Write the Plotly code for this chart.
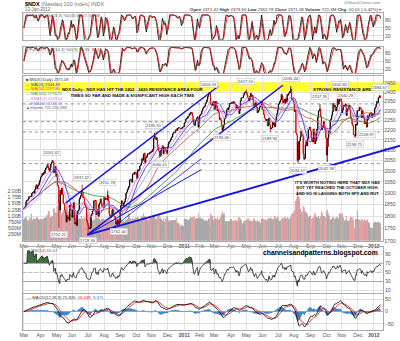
import numpy as np
import pandas as pd
import plotly.graph_objects as go

# ---------------- data (NDX daily closes, by month) ----------------
month_labels = ["Mar", "Apr", "May", "Jun", "Jul", "Aug", "Sep", "Oct", "Nov", "Dec", "<b>2011</b>", "Feb",
                "Mar", "Apr", "May", "Jun", "Jul", "Aug", "Sep", "Oct", "Nov", "Dec", "<b>2012</b>"]

close_2010_03 = [1832, 1838, 1845, 1862, 1869, 1868, 1874, 1884, 1882, 1885, 1886, 1899, 1902, 1906, 1899, 1914, 1928, 1937, 1918, 1931, 1936, 1947, 1957]
close_2010_04 = [1972, 1976, 1988, 1982, 1994, 1989, 2004, 2013, 2017, 2030, 2021, 2006, 1998, 2015, 2032, 2040, 2048, 2041, 1992, 1998, 2021, 1974]
close_2010_05 = [1985, 1936, 1925, 1860, 1826, 1913, 1895, 1922, 1893, 1855, 1853, 1826, 1814, 1776, 1803, 1792, 1797, 1783, 1848, 1827, 1827]
close_2010_06 = [1796, 1830, 1858, 1790, 1768, 1773, 1762, 1810, 1822, 1828, 1873, 1880, 1889, 1910, 1905, 1880, 1878, 1851, 1845, 1842, 1783, 1772]
close_2010_07 = [1760, 1748, 1750, 1752, 1803, 1810, 1822, 1826, 1866, 1865, 1867, 1808, 1810, 1830, 1800, 1850, 1857, 1874, 1858, 1842, 1840, 1838]
close_2010_08 = [1880, 1872, 1877, 1874, 1869, 1890, 1862, 1810, 1802, 1795, 1800, 1826, 1831, 1801, 1800, 1787, 1768, 1777, 1766, 1786, 1770, 1774]
close_2010_09 = [1822, 1845, 1866, 1860, 1842, 1855, 1862, 1874, 1898, 1904, 1915, 1922, 1930, 1958, 1962, 1956, 1948, 1985, 1990, 1985, 1995, 1992]
close_2010_10 = [1980, 1965, 2005, 2000, 2006, 2022, 2028, 2040, 2058, 2050, 2078, 2085, 2040, 2061, 2065, 2075, 2082, 2080, 2082, 2090, 2088]
close_2010_11 = [2095, 2092, 2105, 2158, 2170, 2165, 2152, 2160, 2125, 2100, 2095, 2068, 2072, 2100, 2108, 2120, 2082, 2112, 2112, 2100, 2092, 2080]
close_2010_12 = [2115, 2130, 2140, 2142, 2150, 2160, 2165, 2180, 2185, 2188, 2185, 2198, 2205, 2198, 2208, 2212, 2210, 2210, 2206, 2208, 2212, 2215, 2218]
close_2011_01 = [2235, 2240, 2255, 2262, 2260, 2270, 2272, 2285, 2282, 2293, 2290, 2272, 2248, 2228, 2222, 2245, 2250, 2262, 2268, 2214, 2240]
close_2011_02 = [2275, 2280, 2285, 2298, 2310, 2318, 2322, 2325, 2340, 2348, 2360, 2378, 2390, 2395, 2395, 2335, 2330, 2330, 2345, 2350]
close_2011_03 = [2305, 2315, 2350, 2330, 2300, 2308, 2290, 2255, 2262, 2250, 2225, 2198, 2210, 2225, 2262, 2260, 2275, 2305, 2315, 2305, 2320, 2340, 2338]
close_2011_04 = [2342, 2345, 2340, 2350, 2347, 2338, 2335, 2315, 2330, 2315, 2320, 2285, 2305, 2355, 2370, 2370, 2372, 2385, 2395, 2400, 2405]
close_2011_05 = [2400, 2385, 2370, 2355, 2360, 2380, 2395, 2375, 2385, 2360, 2325, 2320, 2340, 2345, 2320, 2290, 2295, 2305, 2320, 2325, 2325, 2352]
close_2011_06 = [2305, 2305, 2280, 2262, 2255, 2248, 2255, 2220, 2225, 2262, 2225, 2205, 2210, 2210, 2240, 2225, 2240, 2215, 2245, 2270, 2285, 2305]
close_2011_07 = [2335, 2340, 2350, 2360, 2390, 2380, 2345, 2350, 2362, 2340, 2365, 2348, 2390, 2385, 2395, 2405, 2400, 2420, 2365, 2362, 2358]
close_2011_08 = [2345, 2295, 2305, 2185, 2175, 2050, 2140, 2055, 2145, 2165, 2195, 2175, 2172, 2080, 2055, 2060, 2125, 2145, 2120, 2155, 2200, 2205, 2215]
close_2011_09 = [2195, 2160, 2145, 2140, 2205, 2190, 2130, 2145, 2180, 2205, 2265, 2300, 2300, 2310, 2270, 2200, 2210, 2220, 2245, 2215, 2200, 2160]
close_2011_10 = [2075, 2115, 2160, 2195, 2185, 2250, 2255, 2275, 2295, 2340, 2320, 2330, 2300, 2300, 2320, 2365, 2335, 2350, 2390, 2390, 2350]
close_2011_11 = [2290, 2305, 2330, 2325, 2330, 2335, 2275, 2300, 2310, 2320, 2330, 2305, 2265, 2255, 2230, 2222, 2175, 2175, 2168, 2230, 2225, 2300]
close_2011_12 = [2300, 2302, 2320, 2315, 2310, 2265, 2300, 2270, 2262, 2232, 2240, 2245, 2215, 2275, 2255, 2270, 2285, 2285, 2290, 2265, 2285, 2278]
close_2012_01 = [2278, 2312, 2320, 2335, 2350, 2345, 2370, 2375, 2381, 2371.08]

# daily volume in units of 10M shares
vol_2010_03 = [85, 90, 88, 95, 80, 82, 78, 84, 92, 75, 110, 86, 80, 78, 90, 85, 88, 82, 95, 90, 84, 80, 86]
vol_2010_04 = [82, 70, 88, 85, 90, 80, 92, 95, 98, 90, 105, 120, 90, 95, 92, 98, 100, 95, 130, 110, 105, 115]
vol_2010_05 = [110, 140, 130, 185, 160, 120, 110, 105, 115, 125, 118, 122, 125, 150, 140, 110, 120, 115, 105, 100, 60]
vol_2010_06 = [110, 100, 95, 120, 105, 112, 108, 95, 85, 88, 92, 90, 85, 100, 80, 90, 88, 95, 85, 90, 110, 115]
vol_2010_07 = [105, 95, 60, 90, 95, 82, 78, 80, 85, 80, 90, 110, 92, 85, 98, 90, 80, 82, 85, 88, 90, 85]
vol_2010_08 = [85, 80, 82, 78, 80, 75, 88, 105, 90, 85, 80, 85, 82, 88, 80, 78, 95, 90, 85, 80, 75, 92]
vol_2010_09 = [95, 85, 80, 60, 82, 78, 75, 78, 85, 82, 88, 90, 110, 85, 90, 88, 82, 92, 80, 88, 90, 95]
vol_2010_10 = [88, 92, 95, 90, 85, 80, 70, 92, 98, 95, 110, 90, 100, 88, 85, 82, 80, 85, 90, 88, 92]
vol_2010_11 = [90, 85, 95, 105, 100, 82, 88, 85, 95, 100, 88, 110, 95, 88, 82, 80, 95, 78, 50, 70, 88, 95]
vol_2010_12 = [100, 85, 80, 78, 82, 85, 80, 82, 84, 80, 85, 82, 92, 75, 70, 72, 70, 50, 60, 65, 62, 60, 58]
vol_2011_01 = [90, 85, 88, 82, 80, 85, 82, 88, 85, 95, 60, 90, 95, 98, 88, 85, 90, 88, 92, 110, 90]
vol_2011_02 = [95, 88, 85, 90, 85, 88, 82, 80, 85, 78, 82, 80, 78, 90, 60, 110, 105, 100, 85, 82]
vol_2011_03 = [100, 90, 88, 85, 95, 85, 82, 90, 85, 95, 110, 120, 98, 110, 82, 78, 75, 80, 78, 75, 78, 80, 82]
vol_2011_04 = [88, 78, 80, 82, 80, 78, 82, 85, 78, 80, 85, 95, 80, 90, 85, 60, 70, 75, 78, 82, 80]
vol_2011_05 = [85, 82, 88, 90, 85, 78, 80, 82, 78, 80, 90, 85, 82, 78, 80, 85, 75, 78, 80, 72, 60, 88]
vol_2011_06 = [95, 85, 88, 80, 82, 85, 80, 92, 82, 88, 92, 95, 90, 88, 82, 85, 88, 100, 82, 85, 90, 95]
vol_2011_07 = [85, 70, 80, 82, 90, 85, 92, 88, 90, 95, 88, 90, 95, 85, 88, 85, 90, 95, 110, 105, 110]
vol_2011_08 = [115, 120, 125, 160, 170, 210, 180, 175, 160, 130, 110, 118, 105, 140, 135, 110, 120, 115, 110, 100, 90, 95, 100]
vol_2011_09 = [85, 88, 60, 92, 95, 88, 110, 98, 90, 92, 95, 100, 82, 90, 100, 120, 110, 90, 100, 92, 88, 95]
vol_2011_10 = [115, 125, 110, 100, 90, 85, 82, 88, 85, 95, 80, 88, 82, 90, 95, 80, 82, 90, 110, 88, 92]
vol_2011_11 = [110, 90, 95, 82, 78, 85, 100, 82, 80, 78, 85, 82, 95, 85, 95, 85, 82, 45, 50, 88, 85, 120]
vol_2011_12 = [88, 80, 85, 78, 82, 90, 80, 85, 82, 88, 78, 80, 85, 82, 78, 72, 70, 50, 55, 52, 50, 48]
vol_2012_01 = [72, 75, 78, 70, 75, 70, 78, 74, 72, 72]

closes_by_month = [close_2010_03, close_2010_04, close_2010_05, close_2010_06, close_2010_07, close_2010_08,
                   close_2010_09, close_2010_10, close_2010_11, close_2010_12, close_2011_01, close_2011_02,
                   close_2011_03, close_2011_04, close_2011_05, close_2011_06, close_2011_07, close_2011_08,
                   close_2011_09, close_2011_10, close_2011_11, close_2011_12, close_2012_01]
vols_by_month = [vol_2010_03, vol_2010_04, vol_2010_05, vol_2010_06, vol_2010_07, vol_2010_08,
                 vol_2010_09, vol_2010_10, vol_2010_11, vol_2010_12, vol_2011_01, vol_2011_02,
                 vol_2011_03, vol_2011_04, vol_2011_05, vol_2011_06, vol_2011_07, vol_2011_08,
                 vol_2011_09, vol_2011_10, vol_2011_11, vol_2011_12, vol_2012_01]

# intraday extremes that were annotated on the chart: (trading-day index, value, 'H'/'L')
extreme_days = [39, 48, 80, 88, 115, 131, 179, 186, 254, 272, 305, 338, 366, 376, 406, 416, 433, 441, 454, 470, 488]
extreme_vals = [2051.42, 1752.22, 1937.22, 1728.34, 1911.78, 1762.40, 2185.51, 2060.21, 2403.33, 2195.40, 2417.10,
                2189.94, 2436.44, 2034.57, 2337.35, 2042.58, 2402.82, 2340.29, 2158.71, 2209.97, 2384.67]
extreme_kind = ["H", "L", "H", "L", "H", "L", "H", "L", "H", "L", "H", "L", "H", "L", "H", "L", "H", "H", "L", "L", "H"]

support_levels = [2337.35, 2243.0, 2189.94, 2034.57]

# ---------------- derived series ----------------
close_list, vol_list, month_start = [], [], []
for c, v in zip(closes_by_month, vols_by_month):
    month_start.append(len(close_list))
    m = min(len(c), len(v))
    close_list += c[:m]
    vol_list += v[:m]
close = np.array(close_list, float)
volume = np.array(vol_list, float) * 1e7
n = len(close)
idx = np.arange(n)
openp = np.r_[close[0], close[:-1]]
high = np.maximum(openp, close)
low = np.minimum(openp, close)
for d, v, k in zip(extreme_days, extreme_vals, extreme_kind):
    if d < n:
        if k == "H":
            high[d] = max(high[d], v)
        else:
            low[d] = min(low[d], v)

cs = pd.Series(close)
ma20 = cs.rolling(20, min_periods=1).mean()
ma50 = cs.rolling(50, min_periods=1).mean()
ma100 = cs.rolling(100, min_periods=1).mean()
ema13 = cs.ewm(span=13, adjust=False).mean()
ema34 = cs.ewm(span=34, adjust=False).mean()


def full_sto(k):
    hh = pd.Series(high).rolling(k, min_periods=1).max()
    ll = pd.Series(low).rolling(k, min_periods=1).min()
    fast = (100 * (cs - ll) / (hh - ll).replace(0, np.nan)).fillna(50)
    fk = fast.rolling(3, min_periods=1).mean()
    fd = fk.rolling(3, min_periods=1).mean()
    return fk, fd


sto1k, sto1d = full_sto(5)
sto2k, sto2d = full_sto(14)

delta = cs.diff().fillna(0)
gain = delta.clip(lower=0).ewm(alpha=1 / 14, adjust=False).mean()
loss = (-delta.clip(upper=0)).ewm(alpha=1 / 14, adjust=False).mean()
rsi = (100 - 100 / (1 + gain / loss.replace(0, np.nan))).fillna(70)

macd = cs.ewm(span=12, adjust=False).mean() - cs.ewm(span=26, adjust=False).mean()
signal = macd.ewm(span=9, adjust=False).mean()
hist = macd - signal

up = close >= openp
# ---------------- layout helpers ----------------
W, H = 400, 341
X0, X1 = 20, 383


def px(x):
    return x / W


def py(y):
    return 1 - y / H


xr = [-1.4, n + 2.6]
panels = {"sto1": (13, 40), "sto2": (47, 74), "main": (77, 243), "rsi": (249, 296), "macd": (297, 333)}

fig = go.Figure()
grid = "#e2e2e2"
red = "#e01010"

# STO panels
for k_, d_, xa, ya in [(sto1k, sto1d, "x", "y"), (sto2k, sto2d, "x2", "y2")]:
    fig.add_trace(go.Scatter(x=idx, y=k_, mode="lines", line=dict(color="black", width=0.8), xaxis=xa, yaxis=ya))
    fig.add_trace(go.Scatter(x=idx, y=d_, mode="lines", line=dict(color=red, width=0.8), xaxis=xa, yaxis=ya))

# volume (base of main panel)
vcol = np.where(up, "#a9a9a9", "#e8a0a0")
fig.add_trace(go.Bar(x=idx, y=volume, marker=dict(color=vcol, line=dict(width=0)), width=0.75, xaxis="x3", yaxis="y3"))

# support lines
for lv in support_levels:
    fig.add_trace(go.Scatter(x=xr, y=[lv, lv], mode="lines", line=dict(color="#777", width=0.8, dash="dot"),
                             xaxis="x3", yaxis="y4"))

# moving averages
for s, col, w in [(ma100, "#3a8a3a", 0.8), (ma50, "#e04040", 0.8), (ema34, "#9a9ad8", 0.8),
                  (ma20, "#3030d0", 0.8), (ema13, "#e070e0", 0.8)]:
    fig.add_trace(go.Scatter(x=idx, y=s, mode="lines", line=dict(color=col, width=w), xaxis="x3", yaxis="y4"))

fig.add_trace(go.Candlestick(x=idx, open=openp, high=high, low=low, close=close,
                             increasing=dict(line=dict(color="black", width=0.8), fillcolor="black"),
                             decreasing=dict(line=dict(color="#d00000", width=0.8), fillcolor="#d00000"),
                             whiskerwidth=0, xaxis="x3", yaxis="y4"))

# RSI
fig.add_trace(go.Scatter(x=idx, y=np.full(n, 70.0), mode="lines", line=dict(width=0), xaxis="x5", yaxis="y5"))
fig.add_trace(go.Scatter(x=idx, y=np.maximum(rsi, 70), mode="lines", line=dict(width=0), fill="tonexty",
                         fillcolor="#3c6e3c", xaxis="x5", yaxis="y5"))
fig.add_trace(go.Scatter(x=idx, y=np.full(n, 30.0), mode="lines", line=dict(width=0), xaxis="x5", yaxis="y5"))
fig.add_trace(go.Scatter(x=idx, y=np.minimum(rsi, 30), mode="lines", line=dict(width=0), fill="tonexty",
                         fillcolor="#c04040", xaxis="x5", yaxis="y5"))
for lv, dash, col in [(70, "solid", "#999"), (30, "solid", "#999"), (50, "dot", "#aaa")]:
    fig.add_trace(go.Scatter(x=xr, y=[lv, lv], mode="lines", line=dict(color=col, width=0.8, dash=dash),
                             xaxis="x5", yaxis="y5"))
fig.add_trace(go.Scatter(x=idx, y=rsi, mode="lines", line=dict(color="#222", width=0.8), xaxis="x5", yaxis="y5"))

# MACD
fig.add_trace(go.Scatter(x=idx, y=hist, mode="lines", fill="tozeroy", line=dict(color="#2a6db0", width=0.5),
                         fillcolor="#3c8ad0", xaxis="x6", yaxis="y6"))
fig.add_trace(go.Scatter(x=xr, y=[0, 0], mode="lines", line=dict(color="#999", width=0.6), xaxis="x6", yaxis="y6"))
fig.add_trace(go.Scatter(x=idx, y=signal, mode="lines", line=dict(color=red, width=0.8), xaxis="x6", yaxis="y6"))
fig.add_trace(go.Scatter(x=idx, y=macd, mode="lines", line=dict(color="black", width=0.8), xaxis="x6", yaxis="y6"))

FONT = "Arial, Liberation Sans, sans-serif"
tickfont = dict(family=FONT, size=5.2, color="#555")


def xaxis(name, dom, labels):
    return dict(domain=[px(X0), px(X1)], range=xr, anchor=name, tickvals=month_start, ticktext=month_labels,
                showticklabels=labels, tickfont=tickfont, ticks="", showgrid=True, gridcolor=grid, gridwidth=0.6,
                showline=True, mirror=True, linecolor="#aaa", linewidth=0.6, zeroline=False, fixedrange=True,
                rangeslider=dict(visible=False))


def yaxis(name, panel, rng, vals, text=None, side="right", typ="linear", grid_on=True):
    top, bot = panels[panel]
    d = dict(domain=[py(bot), py(top)], range=rng, anchor=name, side=side, type=typ, tickvals=vals,
             tickfont=tickfont, ticks="", showgrid=grid_on, gridcolor=grid, gridwidth=0.6, zeroline=False,
             showline=True, mirror=True, linecolor="#aaa", linewidth=0.6, fixedrange=True)
    if text is not None:
        d["ticktext"] = text
    return d


price_ticks = list(range(1700, 2451, 50))
vol_ticks = [2.5e8, 5e8, 7.5e8, 1e9, 1.25e9, 1.5e9, 1.75e9, 2e9]
vol_text = ["250M", "500M", "750M", "1.00B", "1.25B", "1.50B", "1.75B", "2.00B"]

fig.update_layout(
    width=W, height=H, margin=dict(l=0, r=0, t=0, b=0), autosize=False, showlegend=False,
    paper_bgcolor="white", plot_bgcolor="white", font=dict(family=FONT, size=5.5, color="#333"),
    xaxis=xaxis("y", "sto1", False), xaxis2=xaxis("y2", "sto2", False), xaxis3=xaxis("y3", "main", True),
    xaxis5=xaxis("y5", "rsi", False), xaxis6=xaxis("y6", "macd", True),
    yaxis=yaxis("x", "sto1", [5, 108], [20, 50, 80]),
    yaxis2=yaxis("x2", "sto2", [5, 103], [20, 50, 80]),
    yaxis3=yaxis("x3", "main", [0, 6.6e9], vol_ticks, vol_text, side="left", grid_on=False),
    yaxis4=dict(domain=[py(243), py(77)], overlaying="y3", anchor="x3", side="right", type="log",
                range=[np.log10(1700), np.log10(2492)], tickvals=price_ticks, tickfont=tickfont, ticks="",
                showgrid=True, gridcolor=grid, gridwidth=0.6, zeroline=False, fixedrange=True),
    yaxis5=yaxis("x5", "rsi", [4, 106], [10, 30, 50, 70, 90]),
    yaxis6=yaxis("x6", "macd", [-75, 69], [-50, 0, 50]),
)
fig.update_xaxes(rangeslider_visible=False)

ann = []


def text(t, x, y, size=4.5, color="#333", anchor="left"):
    ann.append(dict(text=t, x=px(x), y=py(y), xref="paper", yref="paper", xanchor=anchor, yanchor="middle",
                    showarrow=False, font=dict(family=FONT, size=size, color=color)))


# header
text("<b>$NDX</b> <span style='color:#777'>(Nasdaq 100 Index) INDX</span>", 20, 4, 5.5, "#000")
text("13-Jan-2012", 20, 10, 4.5, "#666")
text("@StockCharts.com", 383, 3, 4.2, "#777", "right")
text("<b>Open</b> 2371.42 <b>High</b> 2373.60 <b>Low</b> 2362.78 <b>Close</b> 2371.08 <b>Volume</b> 721.3M "
     "<b>Chg</b> -10.01 (-0.42%) <span style='color:#d00'>▾</span>", 383, 9.5, 4.4, "#333", "right")
# panel titles
text("= Full STO %K(5,3) %D(3) 60.67, <span style='color:#e01010'>64.68</span>", 21, 15.5, 4.2, "#555")
text("= Full STO %K(14,3) %D(3) 94.35, <span style='color:#e01010'>92.69</span>", 21, 49.5, 4.2, "#555")
legend = [("<b>■</b> $NDX (Daily) 2371.08", "#333"), ("— MA(20) 2344.48", "#3030d0"), ("— MA(50) 2297.80", "#e04040"),
          ("— MA(100) 2274.25", "#3a8a3a"), ("— EMA(13) 2339.64", "#e070e0"), ("— EMA(34) 2318.05", "#8888c8"),
          ("▲Volume 721,255,968", "#555")]
for i, (t, c) in enumerate(legend):
    text(t, 21, 80 + 4.8 * i, 4.0, c)
text("▲RSI(14) 61.47", 22, 253, 4.2, "#555")
text("— MACD(12,26,9) 25.820, <span style='color:#e01010'>16.449</span>, <span style='color:#2a6db0'>9.371</span>",
     22, 300, 4.2, "#333")

# commentary
text("<b>NDX Daily - NDX HAS HIT THE 2402 - 2420 RESISTANCE AREA FOUR<br>"
     "TIMES SO FAR AND MADE A SIGNIFICANT HIGH EACH TIME</b>", 57, 93, 4.3, "#111")
text("<b>STRONG RESISTANCE AREA</b>", 310, 90, 4.4, "#111")
text("<b>IT'S WORTH NOTING HERE THAT NDX HAS<br>NOT YET REACHED THE OCTOBER HIGH,<br>"
     "AND SO IS LAGGING BOTH SPX AND RUT</b>", 292, 190, 4.1, "#111")
text("<b>channelsandpatterns.blogspot.com</b>", 380, 255.5, 6.8, "#000", "right")

# value labels at annotated extremes
for d, v, k in zip(extreme_days, extreme_vals, extreme_kind):
    ann.append(dict(text=f"{v:.2f}", x=d, y=np.log10(v), xref="x3", yref="y4", showarrow=False,
                    yshift=4 if k == "H" else -3, yanchor="bottom" if k == "H" else "top",
                    font=dict(family=FONT, size=4.2, color="#444"), bgcolor="white", bordercolor="#bbb",
                    borderwidth=0.5, borderpad=0.5))

fig.update_layout(annotations=ann)

# hand-drawn overlays (resistance band, trend lines) in page coordinates
shapes = [dict(type="rect", xref="paper", yref="paper", x0=px(X0), x1=1.0, y0=py(92), y1=py(83),
               fillcolor="#ffff33", line=dict(width=0), layer="below")]
for (a, b, c, d, w) in [(63, 205, 217, 87, 1.5), (85, 237, 282, 86, 1.5), (85, 237, 400, 147, 1.8),
                        (85, 237, 200, 171, 1.0), (110, 230, 200, 160, 0.8)]:
    shapes.append(dict(type="line", xref="paper", yref="paper", x0=px(a), y0=py(b), x1=px(c), y1=py(d),
                       line=dict(color="#1414e6", width=w)))
fig.update_layout(shapes=shapes)

fig.write_html("out.html")
